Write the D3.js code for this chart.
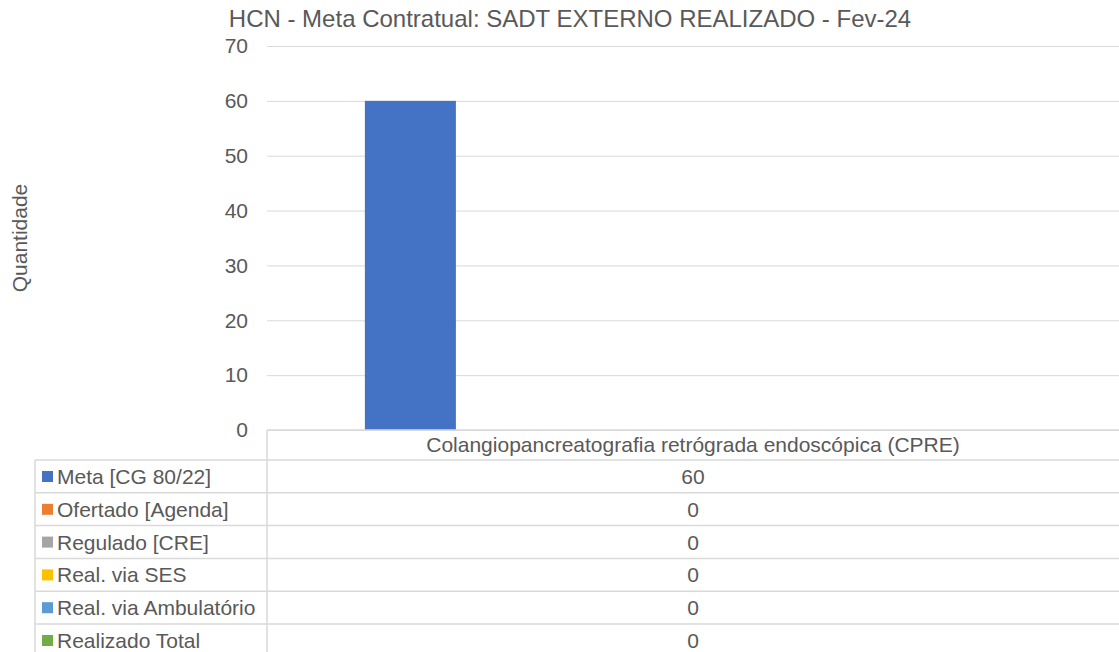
<!DOCTYPE html>
<html>
<head>
<meta charset="utf-8">
<script src="https://cdn.jsdelivr.net/npm/d3@7"></script>
<style>
  body { margin: 0; background: #fff; }
  svg text { font-family: "Liberation Sans", Arial, sans-serif; fill: #595959; }
</style>
</head>
<body>
<div id="chart"></div>
<script>
const categories = ['Colangiopancreatografia retrógrada endoscópica (CPRE)'];
const series = ['Meta [CG 80/22]', 'Ofertado [Agenda]', 'Regulado [CRE]', 'Real. via SES', 'Real. via Ambulatório', 'Realizado Total'];
const values = [[60], [0], [0], [0], [0], [0]];
const colors = ['#4472c4', '#ed7d31', '#a5a5a5', '#ffc000', '#5b9bd5', '#70ad47'];
const y_ticks = [0, 10, 20, 30, 40, 50, 60, 70];

const width = 1119;
const height = 652;
const plot = {left: 267, right: 1119, top: 46, bottom: 430};
const table_left = 35;
const row_h = 32.8;
const fs = '21px';

const svg = d3.select('#chart')
  .append('svg')
    .attr('width', width)
    .attr('height', height);

// Scales
let x0 = d3.scaleBand()
  .domain(categories)
  .range([plot.left, plot.right])
  .padding(0);
let x1 = d3.scaleBand()
  .domain(series)
  .range([0, x0.bandwidth()])
  .paddingInner(0)
  .paddingOuter(1.68)
  .align(0.32);
let y = d3.scaleLinear()
  .domain([0, 70])
  .range([plot.bottom, plot.top]);

// Title
svg.append('text')
  .attr('x', 570)
  .attr('y', 27)
  .attr('text-anchor', 'middle')
  .style('font-size', '24px')
  .text('HCN - Meta Contratual: SADT EXTERNO REALIZADO - Fev-24');

// Y axis label
svg.append('text')
  .attr('transform', 'translate(27,' + 238 + ') rotate(-90)')
  .attr('text-anchor', 'middle')
  .style('font-size', fs)
  .text('Quantidade');

// Gridlines
svg.append('g')
  .attr('class', 'grid')
  .attr('transform', 'translate(' + plot.left + ',0)')
  .call(d3.axisLeft(y).tickValues(y_ticks).tickSize(-(plot.right - plot.left)).tickFormat(''))
  .call(g => g.select('.domain').remove())
  .call(g => g.selectAll('line').attr('stroke', '#d9d9d9'));

// Y tick labels
svg.append('g')
  .selectAll('text')
  .data(y_ticks)
  .join('text')
    .attr('x', 248)
    .attr('y', d => y(d))
    .attr('dy', '0.35em')
    .attr('text-anchor', 'end')
    .style('font-size', fs)
    .text(d => d);

// Bars
series.forEach((s, i) => {
  svg.append('g')
    .selectAll('rect')
    .data(categories.map((c, j) => ({cat: c, v: values[i][j]})))
    .join('rect')
      .attr('x', d => x0(d.cat) + x1(s))
      .attr('width', x1.bandwidth())
      .attr('y', d => y(d.v))
      .attr('height', d => y(0) - y(d.v))
      .attr('fill', colors[i]);
});

// Data table
const tbl = svg.append('g').attr('class', 'data-table');
const line_col = '#d9d9d9';
const t_top = plot.bottom;
const rows_top = t_top + 30;

tbl.append('line')
  .attr('x1', plot.left).attr('x2', plot.right)
  .attr('y1', t_top).attr('y2', t_top)
  .attr('stroke', line_col).attr('stroke-width', 1.5);
tbl.append('line')
  .attr('x1', plot.left).attr('x2', plot.left)
  .attr('y1', t_top).attr('y2', height)
  .attr('stroke', line_col).attr('stroke-width', 1.5);
tbl.selectAll('.cat-label')
  .data(categories)
  .join('text')
    .attr('class', 'cat-label')
    .attr('x', d => x0(d) + x0.bandwidth() / 2)
    .attr('y', t_top + 22)
    .attr('text-anchor', 'middle')
    .style('font-size', fs)
    .text(d => d);

// left border
tbl.append('line')
  .attr('x1', table_left).attr('x2', table_left)
  .attr('y1', rows_top).attr('y2', height)
  .attr('stroke', line_col).attr('stroke-width', 1.5);

series.forEach((s, i) => {
  const ry = rows_top + i * row_h;
  tbl.append('line')
    .attr('x1', table_left).attr('x2', plot.right)
    .attr('y1', ry).attr('y2', ry)
    .attr('stroke', line_col).attr('stroke-width', 1.5);
  tbl.append('rect')
    .attr('x', 42).attr('y', ry + 11)
    .attr('width', 11).attr('height', 11)
    .attr('fill', colors[i]);
  tbl.append('text')
    .attr('x', 57).attr('y', ry + 24)
    .style('font-size', fs)
    .text(s);
  categories.forEach((c, j) => {
    tbl.append('text')
      .attr('x', x0(c) + x0.bandwidth() / 2)
      .attr('y', ry + 24)
      .attr('text-anchor', 'middle')
      .style('font-size', fs)
      .text(values[i][j]);
  });
});
</script>
</body>
</html>
